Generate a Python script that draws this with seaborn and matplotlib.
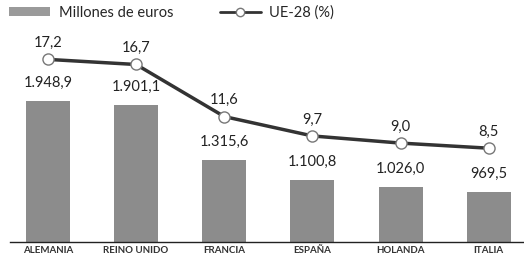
import numpy as np
import matplotlib
matplotlib.use("Agg")
import matplotlib.pyplot as plt
import seaborn as sns
from matplotlib.patches import Patch
from matplotlib.lines import Line2D

paises = ["ALEMANIA", "REINO UNIDO", "FRANCIA", "ESPAÑA", "HOLANDA", "ITALIA"]
millones = [1948.9, 1901.1, 1315.6, 1100.8, 1026.0, 969.5]
ue28 = [17.2, 16.7, 11.6, 9.7, 9.0, 8.5]

def es_num(v):
    # formato espanol: 1.948,9
    s = f"{v:,.1f}"
    return s.replace(",", "X").replace(".", ",").replace("X", ".")

sns.set_style("white")
plt.rcParams['font.family'] = ['Lato', 'DejaVu Sans']

fig = plt.figure(figsize=(5.24, 2.61), dpi=100)
ax = fig.add_axes([10/524, 1 - 242/261, 514/524, 202/261])

sns.barplot(x=paises, y=millones, color="#8c8c8c", width=0.5, ax=ax,
            saturation=1, edgecolor="none")
ax.set_xlim(-0.43, 5.40)
ax.set_ylim(440, 2600)
ax.set_yticks([])
ax.set_ylabel("")
for s in ["top", "right", "left"]:
    ax.spines[s].set_visible(False)
ax.spines["bottom"].set_color("#222222")
ax.spines["bottom"].set_linewidth(1.0)
ax.tick_params(axis="x", length=0, pad=3)
for lbl in ax.get_xticklabels():
    lbl.set_fontsize(7)
    lbl.set_fontweight("bold")
    lbl.set_color("#333333")

for i, v in enumerate(millones):
    ax.text(i, v + 120, es_num(v), ha="center", va="bottom", fontsize=10.5,
            color="#222222")

ax2 = ax.twinx()
xs = np.arange(len(paises))
ax2.plot(xs, ue28, color="#333333", lw=2.5, marker="o", ms=8,
         mfc="white", mec="#777777", mew=1.0, zorder=5)
ax2.set_ylim(-0.69, 19.1)
ax2.set_yticks([])
for s in ["top", "right", "left", "bottom"]:
    ax2.spines[s].set_visible(False)

for i, v in enumerate(ue28):
    ax2.text(i, v + 0.9, f"{v:.1f}".replace(".", ","), ha="center",
             va="bottom", fontsize=10.5, color="#222222")

handles = [Patch(facecolor="#9a9a9a", edgecolor="none"),
           Line2D([0], [0], color="#333333", lw=2, marker="o", ms=6,
                  mfc="white", mec="#777777")]
fig.legend(handles, ["Millones de euros", "UE-28 (%)"], ncol=2,
           loc="upper left", bbox_to_anchor=(-0.008, 1.03), frameon=False,
           fontsize=10.5, handlelength=2.8, handleheight=0.6,
           columnspacing=3.2, handletextpad=0.6)

fig.savefig("out.png", dpi=100, facecolor="white")
